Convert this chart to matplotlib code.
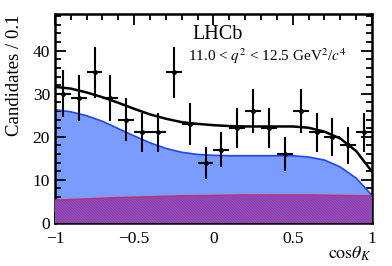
import matplotlib.pyplot as plt
import numpy as np
from matplotlib.ticker import MultipleLocator

plt.rcParams["font.family"] = ["Liberation Serif", "DejaVu Serif"]
plt.rcParams["mathtext.fontset"] = "stix"
plt.rcParams["hatch.color"] = "#3a55ff"
plt.rcParams["hatch.linewidth"] = 0.7

# binned data, bin width 0.1
bin_centers = np.arange(-0.95, 1.0, 0.1)
counts = [30, 29, 35, 29, 24, 21, 21, 35, 23, 14,
          17, 22, 26, 22, 16, 26, 21, 20, 18, 21]

# fit components sampled on cos(theta_K)
curve_x = np.linspace(-1, 1, 21)
total_fit = [31.6, 31.2, 30.3, 29.2, 27.9, 26.5, 25.2, 24.2, 23.4, 23.0, 22.7,
             22.5, 22.4, 22.4, 22.4, 22.4, 22.1, 21.2, 19.6, 16.7, 11.9]
signal_plus_bkg = [26.3, 25.8, 24.9, 23.6, 21.9, 20.2, 18.6, 17.3, 16.4, 15.9, 15.7,
                   15.6, 15.6, 15.6, 15.6, 15.6, 15.3, 14.6, 13.0, 10.4, 6.4]
background = [5.3, 5.45, 5.6, 5.75, 5.9, 6.0, 6.1, 6.2, 6.3, 6.35, 6.4,
              6.45, 6.5, 6.5, 6.5, 6.5, 6.5, 6.45, 6.4, 6.35, 6.3]

fig = plt.figure(figsize=(3.92, 2.66), dpi=100)
ax = fig.add_axes([0.140, 0.162, 0.809, 0.785])

ax.fill_between(curve_x, 0, signal_plus_bkg, facecolor="#7b9cff", edgecolor="none", zorder=1)
ax.plot(curve_x, signal_plus_bkg, color="#1f45ff", lw=1.2, zorder=2)
ax.fill_between(curve_x, 0, background, facecolor="#e8386a", edgecolor="#3a55ff",
                hatch="\\" * 12, lw=0, zorder=3)
ax.plot(curve_x, background, color="#c0306a", lw=1.0, zorder=4)
ax.plot(curve_x, total_fit, color="black", lw=1.8, zorder=5)

ax.errorbar(bin_centers, counts, xerr=0.05, yerr=np.sqrt(counts), fmt="o",
            color="black", ms=2.5, elinewidth=1.5, capsize=0, zorder=6)

ax.set_xlim(-1, 1)
ax.set_ylim(0, 48.5)
ax.xaxis.set_major_locator(MultipleLocator(0.5))
ax.xaxis.set_minor_locator(MultipleLocator(0.1))
ax.yaxis.set_major_locator(MultipleLocator(10))
ax.yaxis.set_minor_locator(MultipleLocator(2))
ax.tick_params(which="both", direction="in", top=True, right=True, width=1.3, labelsize=12.5)
ax.tick_params(which="major", length=8)
ax.tick_params(which="minor", length=4)
ax.tick_params(axis="x", pad=6)
ax.xaxis.set_major_formatter(plt.FuncFormatter(
    lambda v, p: ("\u22121" if v == -1 else "\u22120.5" if v == -0.5 else "%g" % v)))
for s in ax.spines.values():
    s.set_linewidth(1.8)

ax.set_ylabel("Candidates / 0.1", fontsize=13.5, loc="top", labelpad=7)
ax.set_xlabel(r"$\cos\!\theta_K$", fontsize=13, loc="right", labelpad=-2)

ax.text(0.435, 0.88, "LHCb", transform=ax.transAxes, fontsize=14.5)
ax.text(0.42, 0.775, r"11.0 < $q^2$ < 12.5 GeV$^2$/$c^4$", transform=ax.transAxes, fontsize=11)

fig.savefig("out.png", dpi=100)
